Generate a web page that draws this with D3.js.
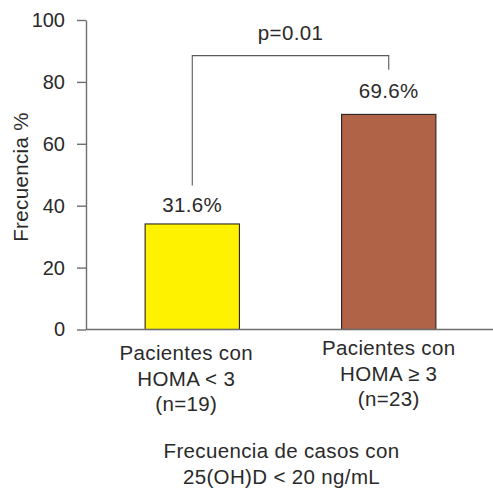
<!DOCTYPE html>
<html>
<head>
<meta charset="utf-8">
<script src="https://cdn.jsdelivr.net/npm/d3@7/dist/d3.min.js"></script>
<style>
  html, body { margin: 0; padding: 0; background: #fff; }
  svg { display: block; }
  text { font-family: "Liberation Sans", Arial, Helvetica, sans-serif; fill: #2a2a2a; }
</style>
</head>
<body>
<div id="chart"></div>
<script>
// ---- data ----
const categories = ["HOMA < 3", "HOMA ≥ 3"];
const categoryLabels = [
  ["Pacientes con", "HOMA < 3", "(n=19)"],
  ["Pacientes con", "HOMA \u2265 3", "(n=23)"]
];
const barValues = [34.1, 69.5];
const valueLabels = ["31.6%", "69.6%"];
const barColors = ["#fff200", "#b06346"];
const yTicks = [0, 20, 40, 60, 80, 100];
const yTitle = "Frecuencia %";
const xTitle = ["Frecuencia de casos con", "25(OH)D < 20 ng/mL"];
const pLabel = "p=0.01";
const bracketLevel = 88.5;       // horizontal bracket level (y-units)
const bracketEnds = [46.5, 83.9]; // lower ends of left/right legs (y-units)

// ---- layout ----
const W = 493, H = 489;
const FS = "20.5px", LS = "0.35px";
const svg = d3.select("#chart").append("svg").attr("width", W).attr("height", H);

const y = d3.scaleLinear().domain([0, 100]).range([329.5, 20]);
const x = d3.scaleBand().domain(categories).range([96, 485]).paddingInner(0.52).paddingOuter(0.25);

// y axis
const axisColor = "#6e6e6e";
const yAxis = svg.append("g").attr("transform", "translate(86,0)")
  .call(d3.axisLeft(y).tickValues(yTicks).tickSize(9).tickPadding(12).tickSizeOuter(0));
yAxis.select(".domain").attr("stroke", axisColor).attr("stroke-width", 1.4);
yAxis.selectAll(".tick line").attr("stroke", axisColor).attr("stroke-width", 1.4);
yAxis.selectAll(".tick text").style("font-size", "20px").style("fill", "#2a2a2a")
  .attr("font-family", null);

// bars
svg.selectAll("rect.bar").data(barValues).join("rect")
  .attr("class", "bar")
  .attr("x", (d, i) => x(categories[i]))
  .attr("width", x.bandwidth())
  .attr("y", d => y(d))
  .attr("height", d => y(0) - y(d))
  .attr("fill", (d, i) => barColors[i])
  .attr("stroke", "#2a2222").attr("stroke-width", 1.1);

// x axis line
svg.append("line")
  .attr("x1", 86).attr("x2", 493)
  .attr("y1", y(0)).attr("y2", y(0))
  .attr("stroke", axisColor).attr("stroke-width", 1.6);

// value labels
const labelOffsets = [11.5, 16];
svg.selectAll("text.val").data(barValues).join("text")
  .attr("class", "val")
  .attr("x", (d, i) => x(categories[i]) + x.bandwidth() / 2)
  .attr("y", (d, i) => y(d) - labelOffsets[i])
  .attr("text-anchor", "middle")
  .style("font-size", FS).style("letter-spacing", LS)
  .text((d, i) => valueLabels[i]);

// significance bracket
const cx0 = x(categories[0]) + x.bandwidth() / 2;
const cx1 = x(categories[1]) + x.bandwidth() / 2;
svg.append("path")
  .attr("d", `M${cx0},${y(bracketEnds[0])}V${y(bracketLevel)}H${cx1}V${y(bracketEnds[1])}`)
  .attr("fill", "none").attr("stroke", "#5a5a5a").attr("stroke-width", 1.1);
svg.append("text")
  .attr("x", (cx0 + cx1) / 2).attr("y", 39.5)
  .attr("text-anchor", "middle")
  .style("font-size", FS).style("letter-spacing", LS)
  .text(pLabel);

// category labels
const catBase = [360, 355];
const catShift = [-6, 0];
categoryLabels.forEach((lines, i) => {
  const t = svg.append("text")
    .attr("text-anchor", "middle")
    .style("font-size", FS).style("letter-spacing", LS);
  lines.forEach((ln, j) => {
    t.append("tspan")
      .attr("x", x(categories[i]) + x.bandwidth() / 2 + catShift[i])
      .attr("y", catBase[i] + j * 25.5)
      .text(ln);
  });
});

// x title
const xt = svg.append("text").attr("text-anchor", "middle")
  .style("font-size", FS).style("letter-spacing", LS);
xTitle.forEach((ln, j) => {
  xt.append("tspan").attr("x", 281.5).attr("y", 457.5 + j * 26).text(ln);
});

// y title
svg.append("text")
  .attr("transform", "translate(28,177) rotate(-90)")
  .attr("text-anchor", "middle")
  .style("font-size", FS).style("letter-spacing", LS)
  .text(yTitle);
</script>
</body>
</html>
